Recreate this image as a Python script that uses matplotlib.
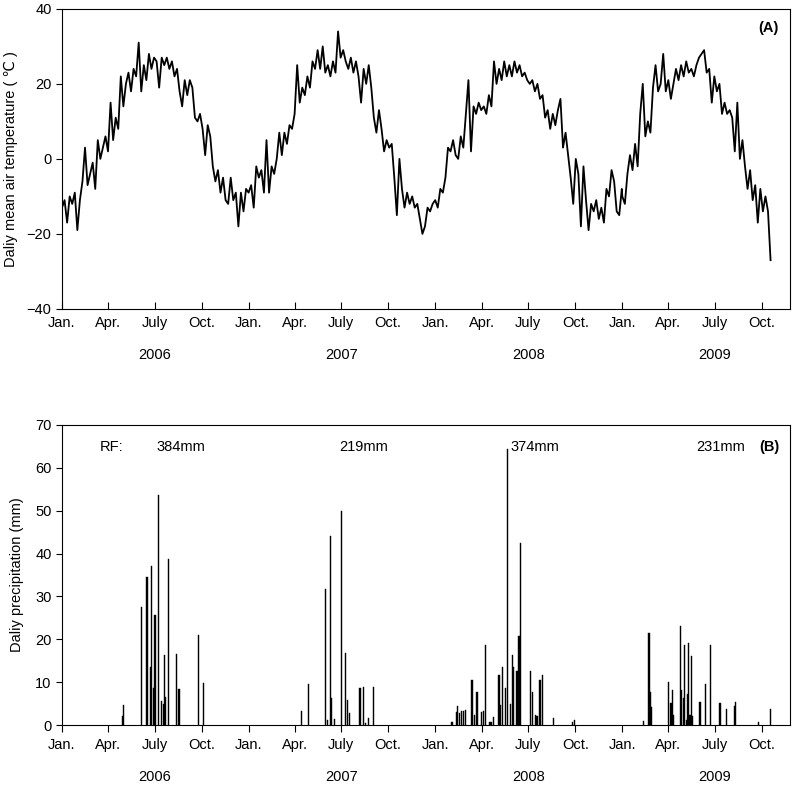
import pandas as pd
import matplotlib.pyplot as plt
import matplotlib.transforms as mtransforms

plt.rcParams['font.family'] = ['Liberation Sans', 'DejaVu Sans']
plt.rcParams['font.size'] = 10.5

## DATA
## ====

# daily mean air temperature, read every 5 days from Jan. 1 of each year
temp_2006 = [-13, -11, -17, -10, -12, -9, -19, -11, -6, 3, -7, -4, -1, -8, 5, 0,
             3, 6, 2, 15, 5, 11, 8, 22, 14, 20, 23, 18, 24, 22, 31, 18, 25, 21,
             28, 24, 27, 26, 19, 27, 25, 27, 24, 26, 22, 24, 18, 14, 21, 17, 21,
             19, 11, 10, 12, 8, 1, 9, 6, -2, -6, -3, -9, -5, -11, -12, -5, -11,
             -9, -18, -9, -14, -8]
temp_2007 = [-9, -7, -13, -2, -5, -3, -9, 5, -9, -2, -4, 0, 7, 1, 7, 4, 9, 8,
             12, 25, 15, 19, 17, 22, 19, 26, 24, 29, 24, 30, 23, 25, 22, 26, 23,
             34, 27, 29, 26, 24, 27, 23, 26, 22, 15, 24, 20, 25, 19, 11, 7, 13,
             8, 2, 5, 3, 4, -5, -15, 0, -8, -13, -9, -12, -10, -13, -12, -16,
             -20, -18, -13, -14, -12]
temp_2008 = [-11, -13, -8, -9, -5, 3, 2, 5, 1, 0, 6, 3, 12, 21, 2, 14, 12, 15,
             13, 14, 12, 17, 14, 26, 20, 24, 21, 26, 22, 25, 22, 26, 23, 25, 22,
             23, 21, 20, 21, 18, 20, 16, 17, 11, 13, 8, 12, 9, 13, 16, 3, 7, 1,
             -5, -12, 0, -4, -18, -2, -11, -19, -12, -14, -11, -16, -13, -17,
             -8, -10, -3, -6, -14, -15, -8]
temp_2009 = [-10, -12, -4, 1, -3, 4, -2, 12, 20, 6, 10, 7, 19, 25, 18, 20, 28,
             18, 21, 16, 20, 24, 21, 25, 22, 26, 23, 24, 22, 25, 27, 28, 29, 23,
             24, 15, 22, 18, 20, 12, 15, 12, 13, 11, 2, 15, 0, 5, -2, -8, -3,
             -11, -7, -17, -8, -14, -10, -14, -27]

# daily precipitation events (day of year, mm)
rain_2006_doy = [119, 120, 156, 166, 173, 175, 180, 182, 189, 195, 198, 201,
                 203, 208, 224, 229, 267, 277]
rain_2006_mm = [2.0, 4.7, 27.6, 34.6, 13.6, 37.0, 8.6, 25.7, 53.7, 5.7, 5.0,
                16.3, 6.5, 38.7, 16.5, 8.3, 21.0, 9.7]
rain_2007_doy = [104, 117, 151, 154, 160, 162, 168, 182, 189, 193, 197, 218,
                 225, 229, 235, 245]
rain_2007_mm = [3.3, 9.6, 31.7, 1.2, 44.0, 6.2, 1.5, 50.0, 16.7, 5.8, 2.9, 8.6,
                8.8, 0.5, 1.6, 8.9]
rain_2008_doy = [33, 41, 44, 48, 52, 55, 59, 72, 77, 82, 91, 94, 99, 106, 109,
                 114, 125, 128, 132, 138, 142, 147, 151, 153, 160, 164, 167,
                 186, 190, 196, 199, 205, 210, 232, 269, 272]
rain_2008_mm = [0.8, 3.1, 4.4, 2.7, 3.3, 3.3, 3.5, 10.5, 2.3, 7.8, 3.1, 3.3,
                18.6, 0.8, 0.8, 1.9, 11.7, 4.7, 13.6, 8.6, 64.3, 5.0, 16.3, 13.6,
                12.7, 20.8, 42.5, 12.7, 7.8, 2.3, 2.1, 10.5, 11.7, 1.6, 0.8, 1.2]
rain_2009_doy = [42, 52, 54, 56, 90, 95, 98, 100, 114, 116, 119, 122, 126, 127,
                 130, 132, 134, 136, 138, 152, 163, 172, 191, 204, 219, 222,
                 266, 290]
rain_2009_mm = [0.9, 21.4, 7.8, 4.3, 10.1, 5.2, 8.2, 2.3, 23.1, 8.2, 6.2, 18.7,
                1.2, 7.2, 19.2, 2.3, 2.3, 16.1, 2.1, 5.4, 9.5, 18.7, 5.1, 3.7,
                4.4, 5.4, 0.8, 3.7]

years = [2006, 2007, 2008, 2009]
rf_labels = ['384mm', '219mm', '374mm', '231mm']
month_labels = ['Jan.', 'Apr.', 'July', 'Oct.']

## BUILD SERIES
## ============

temp_lists = [temp_2006, temp_2007, temp_2008, temp_2009]
temp = pd.concat([pd.Series(v, index=pd.date_range(f'{y}-01-01', periods=len(v), freq='5D'))
                  for y, v in zip(years, temp_lists)])

rain_doy = [rain_2006_doy, rain_2007_doy, rain_2008_doy, rain_2009_doy]
rain_mm = [rain_2006_mm, rain_2007_mm, rain_2008_mm, rain_2009_mm]
rain_dates, rain_vals = [], []
for y, d, m in zip(years, rain_doy, rain_mm):
    rain_dates += list(pd.Timestamp(f'{y}-01-01') + pd.to_timedelta(d, unit='D'))
    rain_vals += m

ticks = pd.date_range('2006-01-01', '2009-10-01', freq='QS')
tick_labels = [month_labels[i % 4] for i in range(len(ticks))]
xmin, xmax = pd.Timestamp('2006-01-01'), pd.Timestamp('2009-11-25')

## FIGURE
## ======

fig = plt.figure(figsize=(7.95, 7.86), dpi=100)
ax1 = fig.add_axes([0.078, 0.607, 0.9157, 0.3817])
ax2 = fig.add_axes([0.078, 0.0776, 0.9157, 0.3817])

# (A) temperature
ax1.plot(temp.index, temp.values, color='black', lw=1.3)
ax1.set_xlim(xmin, xmax)
ax1.set_ylim(-40, 40)
ax1.set_yticks([-40, -20, 0, 20, 40])
ax1.set_xticks(ticks)
ax1.set_xticklabels(tick_labels)
ax1.tick_params(axis='x', direction='in', length=5, pad=5)
ax1.tick_params(axis='y', direction='out', length=4)
ax1.set_ylabel('Daliy mean air temperature ( ℃ )', labelpad=6)
ax1.text(0.985, 0.935, '(A)', transform=ax1.transAxes, ha='right',
         va='center', fontweight='bold')
trans1 = mtransforms.blended_transform_factory(ax1.transData, ax1.transAxes)
for y in years:
    ax1.text(pd.Timestamp(f'{y}-07-01'), -0.155, str(y), transform=trans1,
             ha='center', va='center')

# (B) precipitation
ax2.bar(rain_dates, rain_vals, width=2.5, color='black', edgecolor='black',
        linewidth=0.3)
ax2.set_xlim(xmin, xmax)
ax2.set_ylim(0, 70)
ax2.set_yticks(range(0, 71, 10))
ax2.set_xticks(ticks)
ax2.set_xticklabels(tick_labels)
ax2.tick_params(axis='x', direction='out', length=5, pad=4)
ax2.tick_params(axis='y', direction='out', length=4)
ax2.set_ylabel('Daliy precipitation (mm)', labelpad=8)
ax2.text(0.985, 0.925, '(B)', transform=ax2.transAxes, ha='right',
         va='center', fontweight='bold')
trans2 = mtransforms.blended_transform_factory(ax2.transData, ax2.transAxes)
ax2.text(pd.Timestamp('2006-03-16'), 0.927, 'RF:', transform=trans2,
         ha='left', va='center')
for pos, lab in zip(['2006-07-05', '2007-06-28', '2008-05-27', '2009-05-26'], rf_labels):
    ax2.text(pd.Timestamp(pos), 0.927, lab, transform=trans2, ha='left',
             va='center')
for y in years:
    ax2.text(pd.Timestamp(f'{y}-07-01'), -0.173, str(y), transform=trans2,
             ha='center', va='center')

plt.savefig('out.png', dpi=100)
